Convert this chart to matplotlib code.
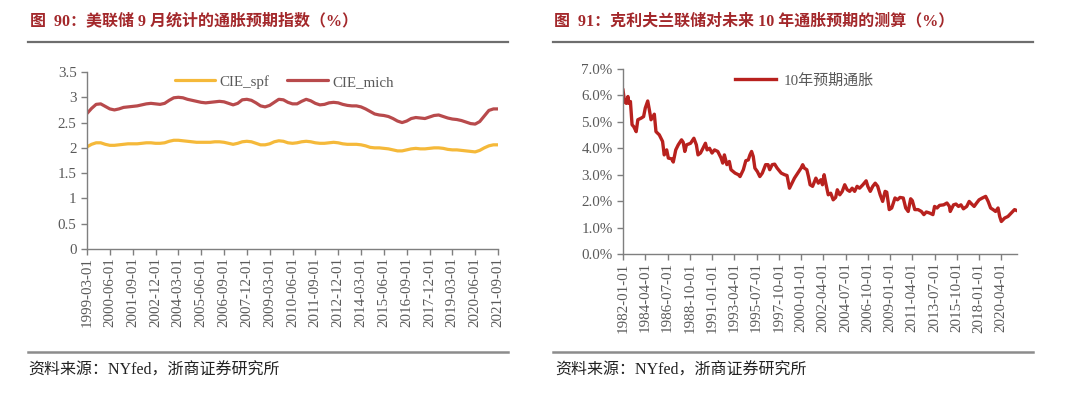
import matplotlib
matplotlib.use("Agg")
import matplotlib.pyplot as plt
import matplotlib.lines as mlines
import numpy as np
import pandas as pd

plt.rcParams['font.family'] = ['Liberation Serif', 'Noto Sans CJK SC']

# ---------------- data ----------------
# Left chart: quarterly, 1999-03 .. 2021-09
cie_start = '1999-03-01'
cie_spf = [2.02, 2.07, 2.10, 2.10, 2.07, 2.05, 2.05, 2.06, 2.07, 2.08, 2.08, 2.08, 2.09, 2.10, 2.10, 2.09,
           2.09, 2.10, 2.13, 2.15, 2.15, 2.14, 2.13, 2.12, 2.11, 2.11, 2.11, 2.11, 2.12, 2.12, 2.11, 2.09,
           2.07, 2.09, 2.12, 2.13, 2.12, 2.09, 2.06, 2.06, 2.08, 2.12, 2.14, 2.13, 2.10, 2.09, 2.10, 2.12,
           2.13, 2.12, 2.10, 2.09, 2.09, 2.10, 2.11, 2.10, 2.08, 2.07, 2.07, 2.07, 2.06, 2.04, 2.01, 2.00,
           2.00, 1.99, 1.98, 1.96, 1.94, 1.94, 1.96, 1.98, 1.99, 1.98, 1.98, 1.99, 2.00, 2.00, 1.99, 1.97,
           1.96, 1.96, 1.95, 1.94, 1.93, 1.92, 1.95, 2.00, 2.04, 2.06, 2.06]
cie_mich = [2.68, 2.78, 2.86, 2.87, 2.82, 2.77, 2.75, 2.77, 2.80, 2.81, 2.82, 2.83, 2.85, 2.87, 2.88, 2.87,
            2.86, 2.88, 2.94, 2.99, 3.00, 2.99, 2.96, 2.94, 2.92, 2.90, 2.89, 2.90, 2.91, 2.92, 2.91, 2.88,
            2.85, 2.88, 2.95, 2.96, 2.94, 2.89, 2.83, 2.81, 2.84, 2.90, 2.96, 2.95, 2.90, 2.87, 2.87, 2.92,
            2.96, 2.93, 2.88, 2.85, 2.86, 2.89, 2.90, 2.89, 2.86, 2.84, 2.83, 2.83, 2.81, 2.77, 2.72, 2.67,
            2.65, 2.64, 2.62, 2.58, 2.53, 2.50, 2.53, 2.58, 2.60, 2.59, 2.58, 2.61, 2.64, 2.65, 2.62, 2.59,
            2.57, 2.56, 2.54, 2.51, 2.48, 2.47, 2.52, 2.63, 2.74, 2.77, 2.77]

# Right chart: 10-year expected inflation (%), month offsets from 1982-01
exp_month = [0, 2, 4, 6, 7, 9, 11, 13, 16, 18, 22, 25, 27, 30, 32, 34, 38, 40, 44, 48, 50, 53, 55, 59, 61,
             64, 67, 71, 73, 75, 77, 82, 86, 89, 91, 94, 97, 100, 102, 105, 108, 111, 115, 119, 121, 123,
             126, 129, 131, 136, 140, 142, 146, 149, 152, 154, 156, 158, 160, 163, 166, 169, 173, 176, 178,
             181, 184, 187, 192, 196, 199, 202, 205, 208, 212, 216, 218, 220, 223, 225, 227, 230, 234, 237,
             240, 242, 244, 246, 249, 252, 255, 258, 260, 263, 266, 269, 272, 275, 278, 281, 284, 287, 291,
             295, 297, 300, 303, 306, 309, 312, 315, 318, 320, 323, 326, 330, 333, 336, 340, 343, 346, 349,
             351, 354, 358, 362, 365, 368, 372, 376, 378, 381, 384, 389, 393, 396, 397, 401, 404, 407, 410,
             413, 417, 420, 423, 426, 429, 432, 436, 440, 443, 446, 449, 452, 455, 457, 459, 463, 467, 471,
             475, 478]
exp_infl = [6.20, 5.75, 5.70, 5.96, 5.70, 5.77, 4.89, 4.82, 4.63, 5.08, 5.14, 5.20, 5.52, 5.79, 5.45, 5.08,
            5.29, 4.63, 4.51, 4.26, 3.75, 3.94, 3.63, 3.60, 3.48, 3.94, 4.13, 4.32, 4.23, 3.88, 4.13, 4.19,
            4.38, 4.13, 3.75, 3.82, 4.00, 4.19, 3.94, 4.00, 3.82, 3.94, 3.88, 3.63, 3.44, 3.75, 3.38, 3.50,
            3.19, 3.06, 3.00, 2.93, 3.19, 3.53, 3.56, 3.75, 3.88, 3.69, 3.25, 3.12, 2.93, 3.06, 3.38, 3.38,
            3.19, 3.38, 3.40, 3.25, 3.06, 3.00, 2.97, 2.49, 2.68, 2.87, 3.06, 3.25, 3.38, 3.25, 3.19, 2.93,
            2.62, 2.56, 2.87, 2.68, 2.81, 2.62, 3.00, 2.68, 2.24, 2.30, 2.05, 2.14, 2.43, 2.24, 2.37, 2.62,
            2.43, 2.37, 2.49, 2.37, 2.56, 2.49, 2.62, 2.77, 2.56, 2.37, 2.56, 2.68, 2.56, 2.24, 1.99, 2.37,
            2.34, 1.68, 1.74, 2.12, 2.05, 2.14, 2.12, 1.74, 1.61, 2.09, 2.02, 1.68, 1.68, 1.61, 1.49, 1.59,
            1.55, 1.49, 1.80, 1.74, 1.84, 1.86, 1.93, 1.80, 1.61, 1.86, 1.89, 1.80, 1.86, 1.71, 1.80, 1.99,
            1.89, 1.80, 1.93, 2.05, 2.12, 2.18, 1.99, 1.74, 1.68, 1.61, 1.74, 1.42, 1.23, 1.36, 1.42, 1.55,
            1.68, 1.64]

left_title = '图  90：美联储 9 月统计的通胀预期指数（%）'
right_title = '图  91：克利夫兰联储对未来 10 年通胀预期的测算（%）'
source_text = '资料来源：NYfed，浙商证券研究所'

# ---------------- figure ----------------
W, H = 1080, 393
fig = plt.figure(figsize=(W / 100, H / 100), dpi=100)

def box(x0, y0, x1, y1):
    return [x0 / W, 1 - y1 / H, (x1 - x0) / W, (y1 - y0) / H]

title_color = '#A3282B'
axis_color = '#7F7F7F'
label_color = '#595959'
fs = 10.8

# titles & rules
fig.text(30 / W, 1 - 21 / H, left_title, fontsize=11.5, fontweight='bold', color=title_color,
         va='center', ha='left')
fig.text(554 / W, 1 - 21 / H, right_title, fontsize=11.5, fontweight='bold', color=title_color,
         va='center', ha='left')
for (a, b) in [(28, 508), (553, 1033)]:
    fig.add_artist(mlines.Line2D([a / W, b / W], [1 - 42 / H, 1 - 42 / H], color='#6E6E6E', lw=1.6))
    fig.add_artist(mlines.Line2D([a / W, b / W], [1 - 352 / H, 1 - 352 / H], color='#8C8C8C', lw=1.8))
for xs in (28, 555):
    fig.text(xs / W, 1 - 371 / H, source_text, fontsize=11.5, color='#222222', va='center', ha='left')

def style_axes(ax):
    for s in ['top', 'right']:
        ax.spines[s].set_visible(False)
    for s in ['left', 'bottom']:
        ax.spines[s].set_color(axis_color)
        ax.spines[s].set_linewidth(1.0)
    ax.tick_params(axis='both', colors=axis_color, labelcolor=label_color, labelsize=fs,
                   length=4, width=1.0, direction='out')
    ax.tick_params(axis='x', pad=2)

# ---------------- left chart ----------------
ax1 = fig.add_axes(box(87, 72, 498, 249))
n = len(cie_spf)
xq = np.arange(n)
qdates = pd.date_range(cie_start, periods=n, freq='3MS')
ax1.plot(xq, cie_spf, color='#F5B93A', lw=2.3, label='CIE_spf', solid_capstyle='round')
ax1.plot(xq, cie_mich, color='#B84A4C', lw=2.3, label='CIE_mich', solid_capstyle='round')
ax1.set_xlim(0, n - 1)
ax1.set_ylim(0, 3.5)
ax1.set_yticks(np.arange(0, 3.51, 0.5))
ax1.set_yticklabels(['0', '0.5', '1', '1.5', '2', '2.5', '3', '3.5'])
tick_idx = list(range(0, n, 5))
ax1.set_xticks(tick_idx)
ax1.set_xticklabels([qdates[i].strftime('%Y-%m-%d') for i in tick_idx], rotation=90)
style_axes(ax1)
ax1.legend(loc='upper center', bbox_to_anchor=(0.48, 1.06), ncol=2, frameon=False, fontsize=fs,
           handlelength=2.7, columnspacing=1.2, handletextpad=0.3, labelcolor=label_color)

# ---------------- right chart ----------------
ax2 = fig.add_axes(box(623, 69, 1017, 254))
ax2.plot(exp_month, exp_infl, color='#B8211E', lw=2.4, label='10年预期通胀')
ax2.set_xlim(0, exp_month[-1])
ax2.set_ylim(0, 7)
ax2.set_yticks(np.arange(0, 7.01, 1))
ax2.set_yticklabels([f'{v:.1f}%' for v in np.arange(0, 7.01, 1)])
mt = list(range(0, exp_month[-1], 27))
ax2.set_xticks(mt)
ax2.set_xticklabels([f'{1982 + m // 12}-{m % 12 + 1:02d}-01' for m in mt], rotation=90)
style_axes(ax2)
ax2.legend(loc='upper center', bbox_to_anchor=(0.46, 1.05), frameon=False, fontsize=fs,
           handlelength=2.7, handletextpad=0.5, labelcolor=label_color)

fig.savefig('out.png', dpi=100)
